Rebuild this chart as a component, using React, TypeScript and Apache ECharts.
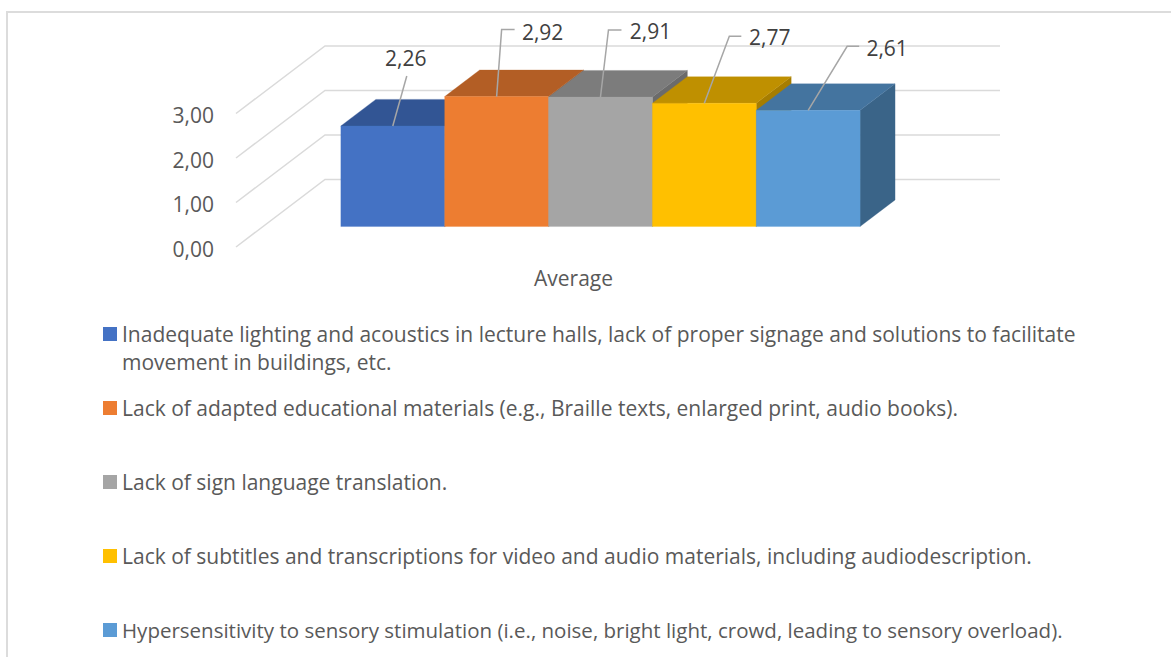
import React, { useEffect, useRef } from "react";
import * as echarts from "echarts";

const categories = ["Average"];
const seriesNames = [
  "Inadequate lighting and acoustics in lecture halls, lack of proper signage and solutions to facilitate",
  "Lack of adapted educational materials (e.g., Braille texts, enlarged print, audio books).",
  "Lack of sign language translation.",
  "Lack of subtitles and transcriptions for video and audio materials, including audiodescription.",
  "Hypersensitivity to sensory stimulation (i.e., noise, bright light, crowd, leading to sensory overload).",
];
const firstNameContinuation = "movement in buildings, etc.";
const seriesValues = [2.26, 2.92, 2.91, 2.77, 2.61];
const seriesColors = ["#4472C4", "#ED7D31", "#A5A5A5", "#FFC000", "#5B9BD5"];
const topColors = ["#325594", "#B35E25", "#7C7C7C", "#BF9000", "#44749F"];
const sideColors = ["#2C4A80", "#9A5120", "#6B6B6B", "#A67D00", "#3A6488"];
const gridTicks = [0, 1, 2, 3];

const FONT = '"Open Sans", sans-serif';
const FONT_SIZE = 21;
const legendFontSizes = [21, 21, 21, 21, 20.5];
const TEXT = "#595959";
const GRID_LINE = "#DADADA";

// Oblique projection of the 3D plot: full floor depth, and the slab of it the bars occupy.
const WALL_DX = 89;
const WALL_DY = 67.6;
const BAR_FRONT = 0.303;
const BAR_BACK = 0.696;
const BAR_SHARE = 1 / 1.3;

// Leader of each value label, relative to the top-centre of the bar's front face:
// [bend dx, bend dy, horizontal run, text dx, text dy]
const leaderLayout = [
  [14, -50, 0, 13, -68],
  [5, -67, 13, 46, -65],
  [8, -67, 13, 50, -66],
  [25, -67, 12, 65.5, -66],
  [39, -64, 12, 79, -62],
];

const formatValue = (v: number) => v.toFixed(2).replace(".", ",");

function barRenderItem(index: number) {
  return (_params: any, api: any) => {
    const value = api.value(1);
    const [cx, top] = api.coord([0, value]);
    const [, floor] = api.coord([0, 0]);
    const band = api.size([1, 0])[0];
    const w = (band * BAR_SHARE) / seriesValues.length;
    const x0 = cx - (w * seriesValues.length) / 2 + index * w + BAR_FRONT * WALL_DX;
    const x1 = x0 + w;
    const yTop = top - BAR_FRONT * WALL_DY;
    const yFloor = floor - BAR_FRONT * WALL_DY;
    const dx = (BAR_BACK - BAR_FRONT) * WALL_DX;
    const dy = (BAR_BACK - BAR_FRONT) * WALL_DY;
    const poly = (points: number[][], fill: string) => ({
      type: "polygon",
      shape: { points },
      style: { fill, stroke: fill, lineWidth: 0.3 },
    });
    const [bx, by, run, tx, ty] = leaderLayout[index];
    const mid = (x0 + x1) / 2;
    return {
      type: "group",
      children: [
        poly([[x1, yFloor], [x1 + dx, yFloor - dy], [x1 + dx, yTop - dy], [x1, yTop]], sideColors[index]),
        poly([[x0, yTop], [x0 + dx, yTop - dy], [x1 + dx, yTop - dy], [x1, yTop]], topColors[index]),
        poly([[x0, yFloor], [x1, yFloor], [x1, yTop], [x0, yTop]], seriesColors[index]),
        {
          type: "polyline",
          shape: { points: [[mid, yTop], [mid + bx, yTop + by], [mid + bx + run, yTop + by]] },
          style: { fill: "none", stroke: "#A6A6A6", lineWidth: 1.5 },
        },
        {
          type: "text",
          x: mid + tx,
          y: yTop + ty,
          style: {
            text: formatValue(value),
            font: `${FONT_SIZE}px ${FONT}`,
            fill: "#404040",
            align: "center",
            verticalAlign: "middle",
          },
        },
      ],
    };
  };
}

function wallRenderItem(_params: any, api: any) {
  const [cx, y] = api.coord([0, api.value(1)]);
  const band = api.size([1, 0])[0];
  const left = cx - band / 2;
  const right = cx + band / 2;
  return {
    type: "polyline",
    shape: {
      points: [
        [left, y],
        [left + WALL_DX, y - WALL_DY],
        [right + WALL_DX, y - WALL_DY],
      ],
    },
    style: { fill: "none", stroke: GRID_LINE, lineWidth: 1.5 },
  };
}

export default function App() {
  const ref = useRef<HTMLDivElement>(null);

  useEffect(() => {
    document.body.style.margin = "0";
    const chart = echarts.init(ref.current!, null, { renderer: "svg" });
    const legendTops = [334, 408, 482, 556, 630];
    chart.setOption({
      animation: false,
      backgroundColor: "#FFFFFF",
      textStyle: { fontFamily: FONT },
      grid: { left: 236, top: 113.5, width: 675, height: 133.5, containLabel: false },
      xAxis: {
        type: "category",
        data: categories,
        axisLine: { show: false },
        axisTick: { show: false },
        axisLabel: { color: TEXT, fontSize: FONT_SIZE, fontFamily: FONT, margin: 20 },
      },
      yAxis: {
        type: "value",
        min: 0,
        max: 3,
        interval: 1,
        axisLine: { show: false },
        axisTick: { show: false },
        splitLine: { show: false },
        axisLabel: {
          color: TEXT,
          fontSize: FONT_SIZE,
          fontFamily: FONT,
          margin: 22,
          verticalAlign: "bottom",
          lineHeight: 21,
          padding: [0, 0, -12, 0],
          formatter: (v: number) => formatValue(v),
        },
      },
      legend: seriesNames.map((name, i) => ({
        data: [name],
        left: 103,
        top: legendTops[i] - 14,
        itemWidth: 14,
        itemHeight: 14,
        itemGap: 0,
        padding: 0,
        icon: "rect",
        selectedMode: false,
        textStyle: { color: TEXT, fontSize: legendFontSizes[i], fontFamily: FONT, lineHeight: 28, height: 28 },
      })),
      graphic: [
        {
          type: "polyline",
          silent: true,
          shape: { points: [[7, 657], [7, 12], [1171, 12]] },
          style: { fill: "none", stroke: "#DCDCDC", lineWidth: 2 },
        },
        {
          type: "text",
          silent: true,
          x: 122,
          y: 362,
          style: {
            text: firstNameContinuation,
            font: `${FONT_SIZE}px ${FONT}`,
            fill: TEXT,
            verticalAlign: "middle",
          },
        },
      ],
      series: [
        {
          type: "custom",
          name: "Gridlines",
          renderItem: wallRenderItem,
          data: gridTicks.map((t) => [0, t]),
          silent: true,
          z: 1,
        },
        ...seriesNames.map((name, i) => ({
          type: "custom",
          name,
          renderItem: barRenderItem(i),
          data: [[0, seriesValues[i]]],
          itemStyle: { color: seriesColors[i] },
          z: 2,
        })),
      ],
    });
    return () => chart.dispose();
  }, []);

  return <div ref={ref} style={{ width: 1171, height: 657 }} />;
}
